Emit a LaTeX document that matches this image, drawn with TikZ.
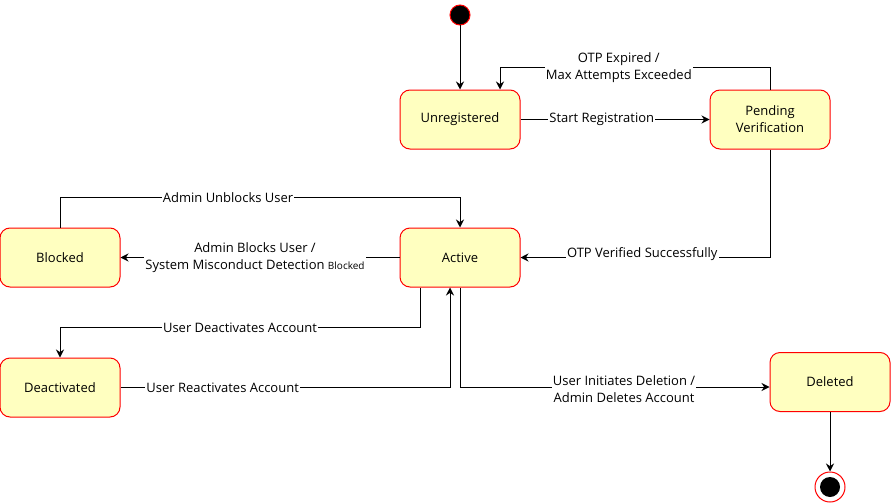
\documentclass[tikz,border=0pt]{standalone}
\usepackage{fontspec}
\setmainfont{Open Sans}
\usepackage{tikz}
\usetikzlibrary{positioning,arrows.meta}
\definecolor{stfill}{HTML}{FFFFC0}
\definecolor{stline}{HTML}{FF0000}

\begin{document}
\begin{tikzpicture}[x=1pt,y=-1pt,
        state/.style={draw=stline,fill=stfill,line width=1pt,rounded corners=10pt,minimum width=120pt,minimum height=59pt,align=center,font=\fontsize{13}{17}\selectfont},
        startdot/.style={circle,draw=stline,line width=1pt,fill=black,minimum size=20pt,inner sep=0pt},
        enddot/.style={circle,draw=stline,line width=1pt,fill=white,minimum size=30pt,inner sep=0pt,
          path picture={\fill[black] (path picture bounding box.center) circle (10pt);}},
        arr/.style={-{Stealth[length=8pt,width=8pt]},line width=1pt},
        lbl/.style={fill=white,inner sep=1pt,align=center,font=\fontsize{13}{17}\selectfont}]
        \useasboundingbox (0,0) rectangle (891,503);
        % states
        \node[startdot] (init) at (460,15) {};
        \node[state] (unreg) at (460,119.5) {Unregistered};
        \node[state] (pend) at (770,119.5) {Pending\\Verification};
        \node[state] (blocked) at (60,257.5) {Blocked};
        \node[state] (active) at (460,257.5) {Active};
        \node[state] (deact) at (60,387.5) {Deactivated};
        \node[state] (deleted) at (830,382) {Deleted};
        \node[enddot] (final) at (830,487) {};
        % transitions
        \draw[arr] (init) -- (unreg);
        \draw[arr] (unreg) -- node[lbl,pos=0.43]{Start Registration} (pend);
        \draw[arr] (pend.north) -- ++(0,-22) -| node[lbl,pos=0.28]{OTP Expired /\\Max Attempts Exceeded} ([xshift=40pt]unreg.north);
        \draw[arr] (pend.south) |- node[lbl,pos=0.756,yshift=3pt]{OTP Verified Successfully} (active.east);
        \draw[arr] (blocked.north) -- ++(0,-30) -| node[lbl,pos=0.21]{Admin Unblocks User} (active.north);
        \draw[arr] (active) -- node[lbl,xshift=-5pt]{Admin Blocks User /\\System Misconduct Detection {\fontsize{10}{12}\selectfont Blocked}} (blocked);
        \draw[arr] ([xshift=-40pt]active.south) -- ++(0,40) -| node[lbl,pos=0.25]{User Deactivates Account} (deact.north);
        \draw[arr] (deact.east) -| node[lbl,pos=0.155]{User Reactivates Account} ([xshift=-10pt]active.south);
        \draw[arr] (active.south) |- node[lbl,pos=0.765,yshift=-2pt]{User Initiates Deletion /\\Admin Deletes Account} ([yshift=-5pt]deleted.west);
        \draw[arr] (deleted) -- (final);
\end{tikzpicture}
\end{document}
